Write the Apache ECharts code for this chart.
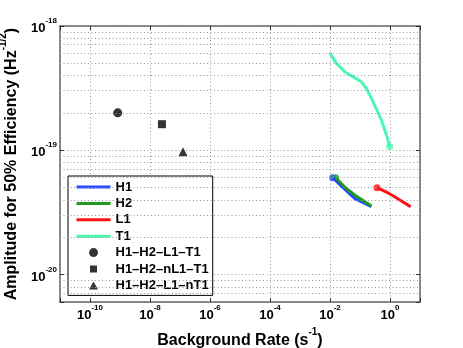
<!DOCTYPE html>
<html>
<head>
<meta charset="utf-8">
<script src="https://cdn.jsdelivr.net/npm/echarts@6/dist/echarts.min.js"></script>
<style>
  html, body { margin: 0; padding: 0; background: #fff; }
  #chart { width: 463px; height: 348px; }
</style>
</head>
<body>
<div id="chart"></div>
<script>
// background rate (s^-1) vs amplitude for 50% efficiency, per detector
const h1Rate = [0.0123, 0.031, 0.0665, 0.24];
const h1Amp = [6.0e-20, 4.87e-20, 4.1e-20, 3.51e-20];
const h2Rate = [0.0155, 0.031, 0.0665, 0.24];
const h2Amp = [6.0e-20, 5.05e-20, 4.36e-20, 3.56e-20];
const l1Rate = [0.369, 0.703, 1.26, 4.9];
const l1Amp = [4.99e-20, 4.65e-20, 4.3e-20, 3.51e-20];
const t1Rate = [0.0098, 0.0163, 0.0309, 0.058, 0.111, 0.163, 0.271, 0.516, 0.759, 0.977];
const t1Amp = [6.1e-19, 5.0e-19, 4.29e-19, 3.91e-19, 3.56e-19, 3.15e-19, 2.46e-19, 1.75e-19, 1.33e-19, 1.07e-19];

const detectors = ['H1', 'H2', 'L1', 'T1'];
const detColors = ['#2347ff', '#1f9a1f', '#ff1010', '#4cf7b2'];
const detDot = [0, 0, 0, 9]; // which point carries the round marker

// network results
const netNames = ['H1–H2–L1–T1', 'H1–H2–nL1–T1', 'H1–H2–L1–nT1'];
const netSymbols = ['circle', 'rect', 'triangle'];
const netRate = [8.4e-10, 2.5e-8, 1.26e-7];
const netAmp = [2.0e-19, 1.62e-19, 9.7e-20];

// legend icons padded out to the 34x9 legend box so they are not stretched
const netLegendIcons = [
  'circle',
  'path://M0,0M34,9M13.5,1L20.5,1L20.5,8L13.5,8Z',
  'path://M0,0M34,9M12.5,8.5L17,0.5L21.5,8.5Z'
];

const xRange = [1e-11, 1e1];
const yRange = [6e-21, 1e-18];
const minorSteps = [2, 3, 4, 5, 6, 7, 8, 9];

const lg = v => Math.log10(v);
const pairs = (xs, ys) => xs.map((x, i) => [lg(x), lg(ys[i])]);
const detData = [pairs(h1Rate, h1Amp), pairs(h2Rate, h2Amp), pairs(l1Rate, l1Amp), pairs(t1Rate, t1Amp)];

const font = 'Liberation Sans';
const supRich = {
  b: { fontFamily: font, fontWeight: 'bold', fontSize: 13, color: '#000', lineHeight: 18, verticalAlign: 'bottom' },
  s: { fontFamily: font, fontWeight: 'bold', fontSize: 8, color: '#000', lineHeight: 10, verticalAlign: 'top' }
};
const nameRich = {
  b: { fontFamily: font, fontWeight: 'bold', fontSize: 16, color: '#000', lineHeight: 22, verticalAlign: 'bottom' },
  s: { fontFamily: font, fontWeight: 'bold', fontSize: 10, color: '#000', lineHeight: 10, verticalAlign: 'top' }
};
const powLabel = (v, evenOnly) => {
  const e = Math.round(v);
  if (Math.abs(v - e) > 1e-6) return '';
  if (evenOnly && e % 2 !== 0) return '';
  return '{b|10}{s|' + e + '}';
};

const minorLines = [];
[-21, -20, -19].forEach(e => {
  minorSteps.forEach(m => {
    const v = lg(m) + e;
    if (v > lg(yRange[0]) && v < lg(yRange[1])) minorLines.push({ yAxis: v });
  });
});

const gridLine = { show: true, lineStyle: { type: [1, 2.5], color: '#999', width: 1 } };
const boxLine = { show: true, onZero: false, lineStyle: { color: '#666', width: 1.5 } };
const inTick = { show: true, inside: true, length: 4, lineStyle: { color: '#333' } };

const series = [];
detectors.forEach((d, i) => {
  series.push({
    name: d, type: 'line', data: detData[i], symbol: 'none',
    lineStyle: { color: detColors[i], width: 3 }, itemStyle: { color: detColors[i], opacity: 0 },
    animation: false
  });
  series.push({
    name: d + ' marker', type: 'scatter', data: [detData[i][detDot[i]]],
    symbol: 'circle', symbolSize: 7, itemStyle: { color: detColors[i] }, animation: false
  });
});
netNames.forEach((n, i) => {
  series.push({
    name: n, type: 'scatter', data: [[lg(netRate[i]), lg(netAmp[i])]],
    symbol: netSymbols[i], symbolSize: netSymbols[i] === 'rect' ? 8 : 9,
    itemStyle: { color: '#000' }, animation: false
  });
});
series.push({
  name: 'minor grid', type: 'line', data: [], silent: true, animation: false,
  markLine: {
    silent: true, symbol: ['none', 'none'], label: { show: false }, animation: false,
    lineStyle: { type: [1, 2.5], color: '#999', width: 1 },
    data: minorLines
  }
});

const legendData = detectors.map((d, i) => ({
  name: d, itemStyle: { opacity: 0 }, lineStyle: { width: 3, color: detColors[i] }
})).concat(netNames.map((n, i) => ({ name: n, icon: netLegendIcons[i] })));

const chart = echarts.init(document.getElementById('chart'));
chart.setOption({
  backgroundColor: '#fff',
  animation: false,
  grid: { left: 60, right: 43, top: 26, bottom: 46, outerBoundsMode: 'none', containLabel: false },
  legend: {
    orient: 'vertical', left: 68, top: 176,
    data: legendData,
    itemWidth: 34, itemHeight: 9, itemGap: 2.4,
    padding: [4, 4, 3, 7],
    backgroundColor: '#fff', borderColor: '#000', borderWidth: 1, borderRadius: 0,
    textStyle: { fontFamily: font, fontWeight: 'bold', fontSize: 13, color: '#000', lineHeight: 14 },
    selectedMode: false
  },
  xAxis: [{
    type: 'value', min: lg(xRange[0]), max: lg(xRange[1]), splitNumber: 6,
    axisLine: boxLine, axisTick: inTick, splitLine: gridLine,
    axisLabel: { margin: 2, formatter: v => powLabel(v, true), rich: supRich },
    name: '{b|Background Rate (s}{s|-1}{b|)}', nameLocation: 'middle', nameGap: 25,
    nameTextStyle: { rich: nameRich }
  }, {
    type: 'value', position: 'top', min: lg(xRange[0]), max: lg(xRange[1]), splitNumber: 6,
    axisLine: boxLine, axisTick: inTick, splitLine: { show: false }, axisLabel: { show: false }
  }],
  yAxis: [{
    type: 'value', min: lg(yRange[0]), max: lg(yRange[1]), splitNumber: 2,
    axisLine: boxLine, axisTick: inTick, splitLine: gridLine,
    axisLabel: { margin: 3, formatter: v => powLabel(v, false), rich: supRich },
    name: '{b|Amplitude for 50% Efficiency (Hz}{s|-1/2}{b|)}', nameLocation: 'middle', nameGap: 38,
    nameTextStyle: { rich: nameRich }
  }, {
    type: 'value', position: 'right', min: lg(yRange[0]), max: lg(yRange[1]), splitNumber: 2,
    axisLine: boxLine, axisTick: inTick, splitLine: { show: false }, axisLabel: { show: false }
  }],
  series: series
});
</script>
</body>
</html>
